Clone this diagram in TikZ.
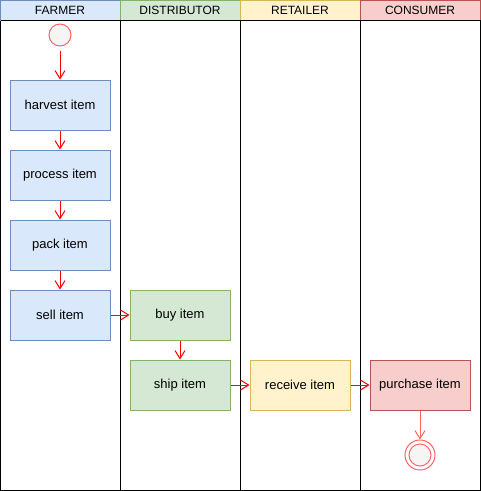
\documentclass[tikz,border=0pt]{standalone}
\usepackage{fontspec}
\setmainfont{Liberation Sans}
\usetikzlibrary{arrows.meta}
\definecolor{bluef}{HTML}{DAE8FC}\definecolor{blued}{HTML}{6C8EBF}
\definecolor{greenf}{HTML}{D5E8D4}\definecolor{greend}{HTML}{82B366}
\definecolor{yelf}{HTML}{FFF2CC}\definecolor{yeld}{HTML}{D6B656}
\definecolor{redf}{HTML}{F8CECC}\definecolor{redd}{HTML}{B85450}
\definecolor{circf}{HTML}{F5F5F5}\definecolor{circd}{HTML}{FF6666}
\tikzset{
  lane/.style={draw=black, line width=1pt},
  hdr/.style={line width=1pt, font=\fontsize{12}{14}\selectfont},
  act/.style={rectangle, line width=1pt, minimum width=100pt, minimum height=50pt, inner sep=0pt, font=\fontsize{13}{15}\selectfont, text=black},
  blueact/.style={act, draw=blued, fill=bluef},
  greenact/.style={act, draw=greend, fill=greenf},
  yelact/.style={act, draw=yeld, fill=yelf},
  redact/.style={act, draw=redd, fill=redf},
  flow/.style={draw=red, line width=1pt, -{Straight Barb[length=8pt,width=10pt]}},
  flowl/.style={draw=circd, line width=1pt, -{Straight Barb[length=8pt,width=10pt]}},
}
\begin{document}
\begin{tikzpicture}[x=1pt,y=-1pt]
\useasboundingbox (0,0) rectangle (481,491);
% lanes
\draw[lane] (0.5,20) rectangle (120,490.5);
\draw[lane] (120,20) rectangle (240,490.5);
\draw[lane] (240,20) rectangle (360,490.5);
\draw[lane] (360,20) rectangle (480.5,490.5);
% headers
\draw[hdr, draw=blued, fill=bluef] (0.5,0.5) rectangle (120,20);
\draw[hdr, draw=greend, fill=greenf] (120,0.5) rectangle (240,20);
\draw[hdr, draw=yeld, fill=yelf] (240,0.5) rectangle (360,20);
\draw[hdr, draw=redd, fill=redf] (360,0.5) rectangle (480.5,20);
\draw[line width=1pt] (0.5,20) -- (480.5,20);
\node[hdr] (hf) at (60,10.5) {FARMER};
\node[hdr] (hd) at (180,10.5) {DISTRIBUTOR};
\node[hdr] (hr) at (300,10.5) {RETAILER};
\node[hdr] (hc) at (420,10.5) {CONSUMER};
% start
\node[circle, draw=circd, fill=circf, line width=1pt, minimum size=22pt, inner sep=0pt] (start) at (60,35) {};
% activities
\node[blueact] (harvest) at (60,105) {harvest item};
\node[blueact] (process) at (60,175) {process item};
\node[blueact] (pack) at (60,245) {pack item};
\node[blueact] (sell) at (60,315) {sell item};
\node[greenact] (buy) at (180,315) {buy item};
\node[greenact] (ship) at (180,385) {ship item};
\node[yelact] (receive) at (300,385) {receive item};
\node[redact] (purchase) at (420,385) {purchase item};
% end
\node[circle, draw=circd, fill=white, line width=1pt, minimum size=30pt, inner sep=0pt] (endo) at (420,455) {};
\node[circle, draw=circd, fill=circf, line width=1pt, minimum size=22pt, inner sep=0pt] (endi) at (420,455) {};
% flows
\draw[flow, shorten <=4pt] (start) -- (harvest);
\draw[flow] (harvest) -- (process);
\draw[flow] (process) -- (pack);
\draw[flow] (pack) -- (sell);
\draw[flow] (sell) -- (buy);
\draw[flow] (buy) -- (ship);
\draw[flow] (ship) -- (receive);
\draw[flow] (receive) -- (purchase);
\draw[flowl] (purchase) -- (endo);
\end{tikzpicture}
\end{document}
